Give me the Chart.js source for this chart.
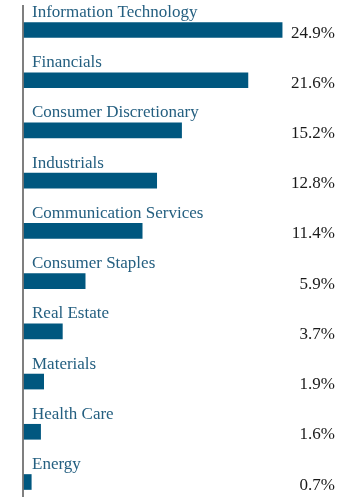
<!DOCTYPE html>
<html>
<head>
<meta charset="utf-8">
<script src="https://cdn.jsdelivr.net/npm/chart.js@4"></script>
<style>
  html, body { margin: 0; padding: 0; background: #fff; }
  #wrap { width: 360px; height: 497px; }
</style>
</head>
<body>
<div id="wrap"><canvas id="sectorChart"></canvas></div>
<script>
const sectors = ['Information Technology', 'Financials', 'Consumer Discretionary', 'Industrials',
  'Communication Services', 'Consumer Staples', 'Real Estate', 'Materials', 'Health Care', 'Energy'];
const weights = [24.9, 21.6, 15.2, 12.8, 11.4, 5.9, 3.7, 1.9, 1.6, 0.7];

const barColor = '#00577f';
const labelColor = '#245f80';
const fontFamily = '"Liberation Serif", "DejaVu Serif", serif';

// sector name above each bar, percentage at the right edge
const barLabels = {
  id: 'barLabels',
  afterDatasetsDraw(chart) {
    const ctx = chart.ctx;
    const area = chart.chartArea;
    const meta = chart.getDatasetMeta(0);
    ctx.save();
    ctx.font = '17px ' + fontFamily;
    meta.data.forEach((bar, i) => {
      ctx.fillStyle = labelColor;
      ctx.textAlign = 'left';
      ctx.textBaseline = 'alphabetic';
      ctx.fillText(sectors[i], 32, bar.y - 13);
      ctx.fillStyle = '#1a1a1a';
      ctx.textAlign = 'right';
      ctx.fillText(weights[i].toFixed(1) + '%', area.right, bar.y + 7.5);
    });
    // left axis line
    ctx.strokeStyle = '#555';
    ctx.lineWidth = 1.5;
    ctx.beginPath();
    ctx.moveTo(23, 5);
    ctx.lineTo(23, 497);
    ctx.stroke();
    ctx.restore();
  },
};

new Chart(document.getElementById('sectorChart').getContext('2d'), {
  type: 'bar',
  data: {
    labels: sectors,
    datasets: [{
      data: weights,
      backgroundColor: barColor,
      barThickness: 15,
      clip: false,
    }],
  },
  options: {
    indexAxis: 'y',
    responsive: true,
    maintainAspectRatio: false,
    animation: false,
    layout: { padding: { left: 24, right: 25, top: 30, bottom: 15 } },
    plugins: { legend: { display: false }, tooltip: { enabled: false } },
    scales: {
      x: { display: false, min: 0, max: 30 },
      y: { display: false, offset: false },
    },
  },
  plugins: [barLabels],
});
</script>
</body>
</html>
